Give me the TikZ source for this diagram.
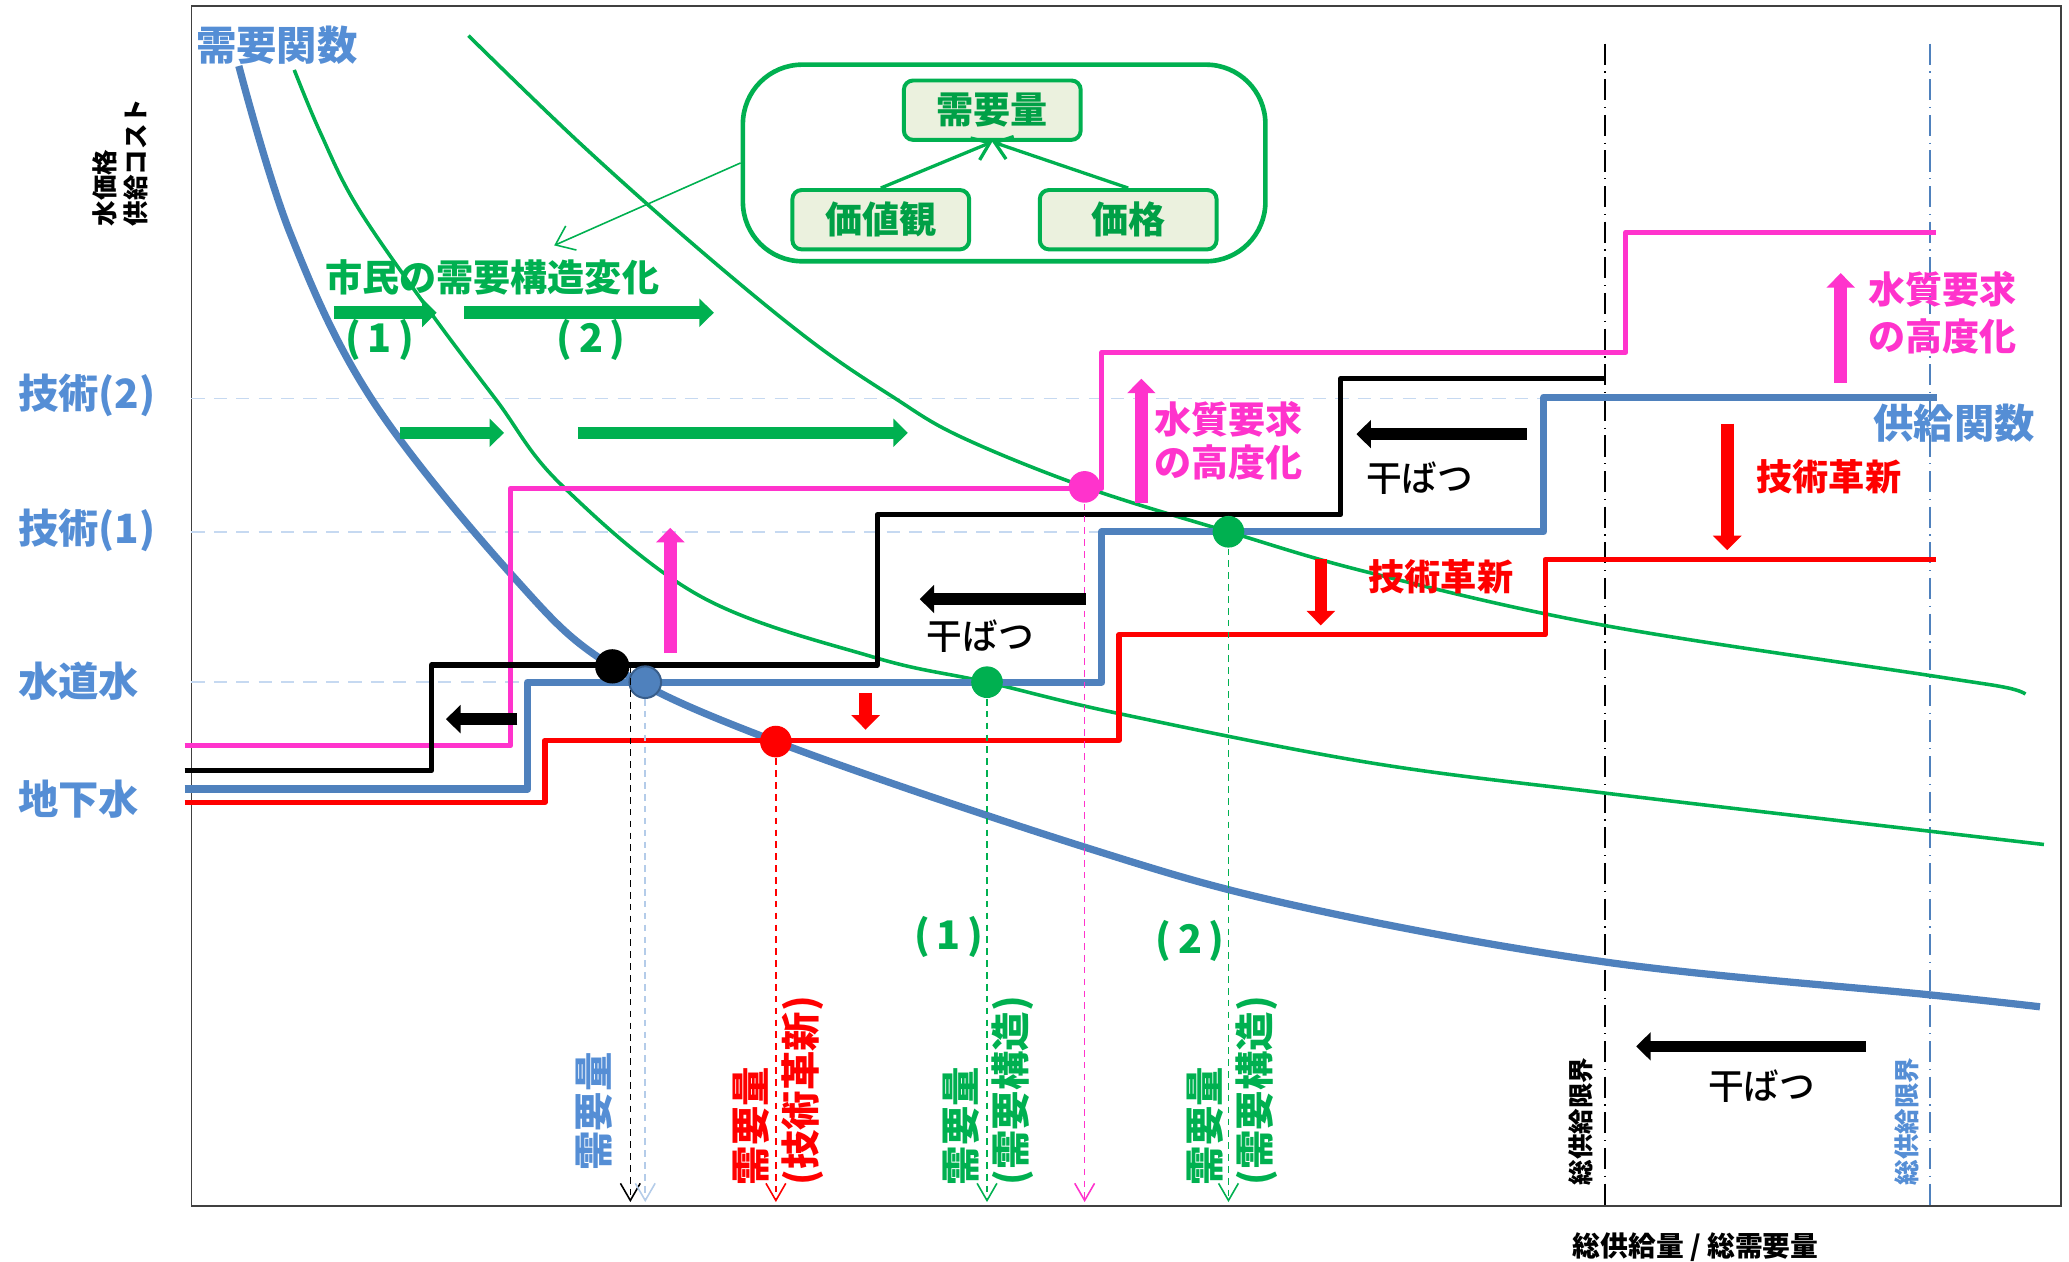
\documentclass[tikz,border=0pt]{standalone}
\usepackage{fontspec}
\setmainfont{Noto Sans CJK JP}
\newfontfamily\jpmid{Noto Sans CJK JP Medium}
\usepackage{tikz}
\usetikzlibrary{positioning,arrows.meta,shapes}

\definecolor{supblue}{HTML}{4F81BD}
\definecolor{txtblue}{HTML}{558ED5}
\definecolor{grn}{HTML}{00B050}
\definecolor{boxtxt}{HTML}{00A046}
\definecolor{mag}{HTML}{FF33CC}
\definecolor{guidec}{HTML}{C6D9F1}
\definecolor{pale}{HTML}{EBF1DE}
\definecolor{dotrim}{HTML}{385D8A}
\newcommand\jsize[2]{\fontsize{#1}{#2}\selectfont}

\tikzset{
  every node/.style={inner sep=0pt},
  axlab/.style={anchor=west, text=txtblue, font=\jsize{8.7}{11}\bfseries},
  stair/.style={line width=0.4mm, line join=round},
  guideline/.style={guidec, line width=0.15mm, dash pattern=on 1mm off 0.7mm},
  drop/.style={line width=0.12mm, dash pattern=on 0.5mm off 0.4mm, -{Straight Barb[length=1.3mm,width=1.5mm]}},
  limit/.style={line width=0.15mm, dash pattern=on 1.6mm off 0.5mm on 0.1mm off 0.5mm},
  fat/.style={line width=0.95mm, -{Triangle[length=1.1mm,width=2.1mm]}},
  dotnode/.style={circle, minimum size=2.4mm},
  vlab/.style={rotate=90, anchor=west, align=left, font=\jsize{8.5}{10.8}\bfseries},
  qbox/.style={draw=grn, line width=0.3mm, fill=pale, rounded corners=0.7mm,
    minimum width=13.4mm, minimum height=4.5mm, text=boxtxt, font=\jsize{8}{9}\bfseries},
  stepno/.style={text=grn, font=\jsize{8.5}{9}\bfseries},
}

\begin{document}
\begin{tikzpicture}[x=0.1mm,y=-0.1mm]
  \useasboundingbox (0,0) rectangle (1568,955.7);
  \draw[line width=0.12mm, black!75] (145,4.5) rectangle (1562,914);
  \coordinate (foot) at (0,911);

  \draw[guideline] (145,302) -- (1170,302);
  \draw[guideline] (145,403) -- (835,403);
  \draw[guideline] (145,517) -- (400,517);
  \draw[limit] (1216,33) -- (1216,914);
  \draw[limit, supblue] (1463,33) -- (1463,914);

  \draw[supblue, line width=0.55mm] plot[smooth, tension=0.6] coordinates {(181,50) (220,177) (282,303) (389,437) (464,505) (588,562) (822,642) (985,687) (1216,729) (1463,754) (1546,763)};
  \draw[grn, line width=0.27mm] plot[smooth, tension=0.6] coordinates {(223,53) (243,101) (271,157) (325,235) (376,303) (426,368) (531,452) (662,498) (748,517) (849,541) (1038,578) (1216,601) (1463,630) (1549,640)};
  \draw[grn, line width=0.27mm] plot[smooth, tension=0.6] coordinates {(355,27) (440,109) (531,190) (614,258) (677,301) (728,331) (822,369) (931,403) (1038,434) (1216,474) (1463,512) (1520,521) (1535,526)};

  \draw[stair, mag] (140,565) -| (387,370) -| (835,267) -| (1232,176) -- (1467,176);
  \draw[stair, black] (140,584) -| (327,504) -| (665,390) -| (1016,287) -- (1216,287);
  \draw[stair, supblue, line width=0.55mm] (140,598) -| (400,517) -| (835,403) -| (1170,301) -- (1468,301);
  \draw[stair, red] (140,608) -| (413,561) -| (848,481) -| (1171,424) -- (1467,424);

  \node[dotnode, fill=black, minimum size=2.6mm] (bdot) at (464,505) {};
  \node[dotnode, fill=supblue, draw=dotrim, line width=0.15mm] (udot) at (489,517) {};
  \node[dotnode, fill=red] (rdot) at (588,562) {};
  \node[dotnode, fill=grn] (gdot) at (748,517) {};
  \node[dotnode, fill=mag] (mdot) at (822,369) {};
  \node[dotnode, fill=grn] (hdot) at (931,403) {};
  \draw[drop, black] (bdot.east) -- (bdot.east |- foot);
  \draw[drop, guidec!85!supblue] (udot.south) -- (udot.south |- foot);
  \draw[drop, red] (rdot.south) -- (rdot.south |- foot);
  \draw[drop, grn] (gdot.south) -- (gdot.south |- foot);
  \draw[drop, mag] (mdot.south) -- (mdot.south |- foot);
  \draw[drop, grn] (hdot.south) -- (hdot.south |- foot);

  \draw[fat, grn] (253,237) -- (331,237);
  \draw[fat, grn] (352,237) -- (541,237);
  \draw[fat, grn] (303,328) -- (382,328);
  \draw[fat, grn] (438,328) -- (688,328);
  \draw[fat, black] (392,545) -- (338,545);
  \draw[fat, black] (823,454) -- (697,454);
  \draw[fat, black] (1157,329) -- (1028,329);
  \draw[fat, black, line width=0.8mm] (1414,793) -- (1240,793);
  \draw[fat, mag] (508,495) -- (508,400);
  \draw[fat, mag] (865,381) -- (865,287);
  \draw[fat, mag] (1395,290) -- (1395,207);
  \draw[fat, red] (656,525) -- (656,553);
  \draw[fat, red] (1001,424) -- (1001,474);
  \draw[fat, red] (1309,321) -- (1309,417);

  \node[draw=grn, line width=0.35mm, rounded corners=4.5mm, minimum width=39.6mm, minimum height=14.9mm] (inset) at (761,123.5) {};
  \node[qbox] (need) at (752,83.5) {需要量};
  \node[qbox] (worth) at (667.5,166.5) {価値観};
  \node[qbox] (price) at (855,166.5) {価格};
  \draw[grn, line width=0.25mm, -{Straight Barb[length=1.2mm,width=1.8mm]}] (worth.north) -- (need.south);
  \draw[grn, line width=0.25mm, -{Straight Barb[length=1.2mm,width=1.8mm]}] (price.north) -- (need.south);
  \coordinate (leadtip) at (420,186);
  \draw[grn, line width=0.12mm, -{Straight Barb[length=1.3mm,width=2mm]}] (inset.west) -- (leadtip);

  \node[axlab] (dfun) at (148,34) {需要関数};
  \node[axlab] (sfun) at (1419,321) {供給関数};
  \node[axlab] (tech2) at (13,300) {技術(2)};
  \node[axlab] (tech1) at (13,402) {技術(1)};
  \node[axlab] (tap) at (13,516) {水道水};
  \node[axlab] (ground) at (13,606) {地下水};
  \node[rotate=90, anchor=west, align=left, font=\jsize{5.5}{6.8}\bfseries] (yaxis) at (91,172) {水価格\\供給コスト};
  \node[font=\jsize{6}{7}\bfseries] (xaxis) at (1285,945) {総供給量 / 総需要量};

  \node[text=grn, font=\jsize{8}{9}\bfseries] (civic) at (373,210) {市民の需要構造変化};
  \node[stepno] (step1) at (288,258) {(\,1\,)};
  \node[stepno] (step2) at (448,258) {(\,2\,)};
  \node[stepno] (shift1) at (719,710) {(\,1\,)};
  \node[stepno] (shift2) at (902,713) {(\,2\,)};
  \node[text=mag, align=left, font=\jsize{8}{9.3}\bfseries] (qual1) at (931,334) {水質要求\\の高度化};
  \node[text=mag, align=left, font=\jsize{8}{10}\bfseries] (qual2) at (1472,237) {水質要求\\の高度化};
  \node[font=\jpmid\jsize{7.7}{9}] (dry1) at (743,482) {干ばつ};
  \node[font=\jpmid\jsize{7.7}{9}] (dry2) at (1076,362) {干ばつ};
  \node[font=\jpmid\jsize{7.7}{9}] (dry3) at (1335,823) {干ばつ};
  \node[text=red, font=\jsize{7.8}{9}\bfseries] (inno1) at (1092,437) {技術革新};
  \node[text=red, font=\jsize{7.8}{9}\bfseries] (inno2) at (1386,361) {技術革新};

  \node[vlab, text=txtblue] (qbase) at (450,888) {需要量};
  \node[vlab, text=red] (qtech) at (590,899) {需要量\\(技術革新)};
  \node[vlab, text=grn] (qone) at (749,899) {需要量\\(需要構造)};
  \node[vlab, text=grn] (qtwo) at (934,899) {需要量\\(需要構造)};
  \node[vlab, font=\jsize{5.5}{6}\bfseries] (lim1) at (1198,899) {総供給限界};
  \node[vlab, text=txtblue, font=\jsize{5.5}{6}\bfseries] (lim2) at (1445,899) {総供給限界};
\end{tikzpicture}
\end{document}
